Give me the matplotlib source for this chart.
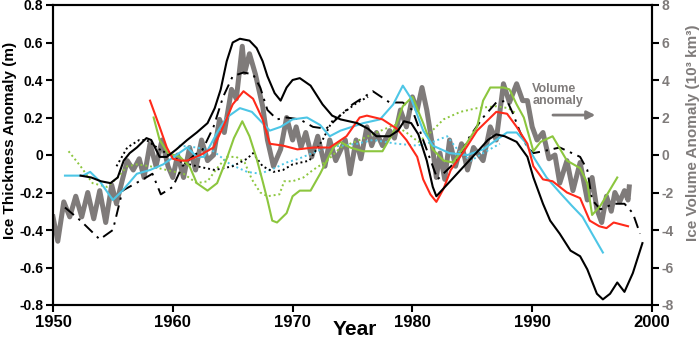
import matplotlib
matplotlib.use("Agg")
import matplotlib.pyplot as plt

plt.rcParams["font.family"] = ["Liberation Sans", "DejaVu Sans"]
plt.rcParams["font.weight"] = "bold"

GRAY = "#7f7b7a"
RED = "#ff2a1a"
CYAN = "#4dc6e6"
GREEN = "#8cc63e"

# --- data (thickness anomaly in m, volume anomaly in 10^3 km^3) ---
vol_years = [1950.0, 1950.4, 1950.9, 1951.4, 1951.9, 1952.4, 1952.9, 1953.4, 1953.9, 1954.4,
             1954.9, 1955.3, 1955.8, 1956.2, 1956.7, 1957.2, 1957.6, 1958.1, 1958.6, 1959.1,
             1959.6, 1960.0, 1960.4, 1960.9, 1961.4, 1961.9, 1962.4, 1962.9, 1963.4, 1963.9,
             1964.3, 1964.9, 1965.3, 1965.8, 1966.0, 1966.4, 1966.9, 1967.5, 1967.9, 1968.4,
             1969.0, 1969.5, 1970.0, 1970.3, 1970.7, 1971.1, 1971.6, 1972.1, 1972.7, 1973.1,
             1973.6, 1974.4, 1974.8, 1975.3, 1975.7, 1976.2, 1976.6, 1977.0, 1977.5, 1978.1,
             1978.5, 1979.0, 1979.5, 1980.0, 1980.4, 1980.8, 1981.2, 1981.6, 1982.0, 1982.3,
             1982.7, 1983.1, 1983.6, 1984.1, 1984.6, 1985.1, 1985.9, 1986.5, 1987.0, 1987.6,
             1988.1, 1988.7, 1989.2, 1989.6, 1990.0, 1990.4, 1990.9, 1991.4, 1991.9, 1992.3,
             1992.9, 1993.4, 1994.0, 1994.6, 1995.0, 1995.4, 1995.8, 1996.2, 1996.6, 1996.9,
             1997.3, 1997.7, 1998.0, 1998.1]
vol_values = [-3.3, -4.6, -2.5, -3.3, -2.2, -3.3, -2.0, -3.4, -1.9, -3.6,
              -1.6, -2.6, -1.3, -0.3, -0.8, -0.2, -1.2, 0.6, -0.6, 0.8,
              -0.6, -1.2, 0.0, -1.2, 0.4, -0.8, 0.8, -0.3, 0.0, 1.9,
              1.2, 3.5, 3.0, 5.8, 4.4, 5.4, 4.3, 2.6, 0.8, -0.6,
              0.3, 2.0, 0.8, 1.5, 0.4, 1.2, -0.1, 1.0, -0.6, 0.8,
              -0.3, 0.8, -1.0, 0.8, -0.2, 1.5, 0.5, 1.2, 0.5, 1.3,
              0.9, 2.4, 1.5, 3.1, 2.4, 3.6, 2.4, 0.8, -1.2, 0.1,
              -1.3, 0.8, -0.6, 0.6, -0.8, 0.4, -0.3, 1.5, 0.8, 3.8,
              2.8, 3.8, 2.9, 2.9, 1.5, 0.8, 1.2, -0.2, 0.0, -1.5,
              -0.3, -1.9, -0.4, -2.4, -1.2, -2.9, -3.6, -2.2, -3.0, -2.0,
              -2.5, -1.9, -2.4, -1.7]

black_years = [1952.3, 1953.2, 1954.0, 1954.8, 1955.4, 1955.9, 1956.4, 1957.0, 1957.8, 1958.2,
               1958.9, 1959.5, 1960.3, 1961.2, 1962.0, 1962.9, 1963.5, 1964.0, 1964.5, 1965.0,
               1965.6, 1966.4, 1967.0, 1967.5, 1967.9, 1968.5, 1969.0, 1969.5, 1970.0, 1970.6,
               1971.5, 1972.5, 1973.3, 1974.0, 1975.4, 1976.3, 1977.0, 1978.1, 1978.8, 1979.3,
               1979.9, 1980.5, 1981.2, 1981.7, 1982.0, 1985.6, 1986.3, 1987.0, 1987.7, 1988.7,
               1989.6, 1990.1, 1990.9, 1991.5, 1992.3, 1993.2, 1994.0, 1994.6, 1995.4, 1995.9,
               1996.5, 1997.1, 1997.7, 1998.4, 1999.2]
black_values = [-0.11, -0.12, -0.14, -0.15, -0.12, -0.03, 0.01, 0.04, 0.09, 0.08,
                -0.01, -0.01, 0.03, 0.08, 0.12, 0.17, 0.25, 0.35, 0.50, 0.60,
                0.62, 0.61, 0.57, 0.50, 0.42, 0.33, 0.29, 0.36, 0.40, 0.41,
                0.37, 0.27, 0.21, 0.19, 0.17, 0.14, 0.10, 0.10, 0.13, 0.18,
                0.17, 0.11, -0.03, -0.17, -0.22, 0.03, 0.08, 0.11, 0.10, 0.07,
                -0.01, -0.12, -0.26, -0.35, -0.42, -0.51, -0.54, -0.61, -0.74, -0.77,
                -0.74, -0.68, -0.73, -0.63, -0.47]

dashdot_years = [1951.0, 1952.3, 1953.9, 1955.0, 1955.8, 1957.5, 1958.3, 1959.0, 1960.0, 1960.8,
                 1961.8, 1962.5, 1963.4, 1964.2, 1965.0, 1965.9, 1966.7, 1967.3, 1967.9, 1968.7,
                 1969.5, 1970.6, 1971.7, 1972.8, 1973.8, 1975.0, 1976.7, 1978.1, 1979.2, 1980.0,
                 1980.9, 1981.7, 1982.1, 1983.7, 1984.8, 1985.9, 1987.0, 1987.9, 1988.4, 1989.0,
                 1989.6, 1990.1, 1990.9, 1992.3, 1994.0, 1994.6, 1995.0, 1995.7, 1996.8, 1997.7,
                 1998.4, 1999.0]
dashdot_values = [-0.28, -0.35, -0.45, -0.40, -0.19, -0.13, -0.10, -0.21, -0.17, -0.06,
                  0.0, 0.03, 0.15, 0.31, 0.42, 0.44, 0.43, 0.36, 0.24, 0.19,
                  0.20, 0.19, 0.15, 0.14, 0.20, 0.27, 0.34, 0.28, 0.28, 0.24,
                  0.08, -0.06, -0.13, -0.03, 0.10, 0.20, 0.28, 0.29, 0.22, 0.12,
                  0.04, 0.01, 0.02, 0.04, -0.01, -0.08, -0.24, -0.29, -0.26, -0.26,
                  -0.31, -0.42]

dotted_years = [1955.3, 1956.2, 1957.2, 1957.8, 1958.9, 1960.0, 1960.8, 1962.0, 1963.5, 1965.0,
                1966.2, 1966.7, 1967.5, 1968.4, 1969.2, 1970.0, 1971.4, 1972.5, 1973.3, 1975.4,
                1976.3]
dotted_values = [-0.06, 0.04, 0.08, 0.08, 0.03, -0.01, -0.04, -0.06, -0.08, -0.06,
                 -0.02, 0.01, -0.06, -0.09, -0.08, -0.05, -0.03, 0.08, 0.18, 0.28,
                 0.31]

red_years = [1958.1, 1958.9, 1959.5, 1960.0, 1960.6, 1961.2, 1962.3, 1963.4, 1964.2, 1965.0,
             1965.9, 1966.7, 1967.5, 1968.1, 1969.2, 1970.4, 1971.8, 1973.1, 1974.5, 1975.6,
             1976.2, 1977.5, 1978.7, 1979.5, 1980.4, 1980.9, 1981.5, 1982.0, 1982.6, 1983.2,
             1984.2, 1985.4, 1986.2, 1987.0, 1987.9, 1988.7, 1989.6, 1990.1, 1990.9, 1991.7,
             1992.9, 1994.0, 1994.8, 1995.6, 1996.2, 1996.8, 1998.0]
red_values = [0.29, 0.15, 0.04, -0.02, -0.03, -0.03, 0.0, 0.04, 0.15, 0.27,
              0.34, 0.30, 0.19, 0.06, 0.05, 0.03, 0.04, 0.04, 0.10, 0.20,
              0.21, 0.19, 0.14, 0.08, -0.01, -0.13, -0.21, -0.25, -0.18, -0.08,
              0.01, 0.13, 0.18, 0.23, 0.22, 0.15, 0.06, -0.06, -0.13, -0.14,
              -0.20, -0.23, -0.35, -0.38, -0.39, -0.36, -0.38]

cyan_years = [1951.0, 1952.5, 1953.1, 1953.9, 1955.0, 1955.8, 1957.0, 1958.1, 1959.2, 1960.3,
              1961.2, 1962.0, 1962.6, 1963.2, 1963.7, 1964.5, 1965.6, 1966.6, 1967.5, 1968.1,
              1969.0, 1970.0, 1971.2, 1972.3, 1973.1, 1974.0, 1975.9, 1977.3, 1978.4, 1979.2,
              1979.9, 1980.9, 1981.7, 1983.1, 1984.6, 1985.9, 1987.0, 1987.9, 1988.7, 1989.4,
              1990.2, 1991.2, 1992.3, 1993.3, 1994.2, 1995.0, 1995.9]
cyan_values = [-0.11, -0.11, -0.09, -0.14, -0.24, -0.19, -0.10, -0.08, -0.05, 0.0,
               0.04, -0.01, -0.01, 0.06, 0.12, 0.20, 0.25, 0.23, 0.17, 0.13,
               0.15, 0.19, 0.20, 0.16, 0.10, 0.13, 0.17, 0.19, 0.27, 0.37,
               0.30, 0.13, 0.05, 0.01, 0.0, 0.03, 0.08, 0.12, 0.12, 0.07,
               -0.02, -0.12, -0.20, -0.27, -0.33, -0.42, -0.52]

green_years = [1958.4, 1958.9, 1959.6, 1960.6, 1961.4, 1962.0, 1962.9, 1963.7, 1964.5, 1965.1,
               1965.8, 1966.4, 1967.0, 1967.5, 1967.9, 1968.3, 1968.7, 1969.5, 1970.0, 1970.6,
               1971.5, 1972.3, 1973.4, 1974.0, 1974.8, 1975.9, 1977.5, 1978.4, 1979.2, 1980.0,
               1980.9, 1981.7, 1982.6, 1983.4, 1984.4, 1985.4, 1985.9, 1986.5, 1987.6, 1988.1,
               1988.7, 1989.3, 1990.1, 1990.7, 1991.7, 1992.9, 1994.0, 1994.6, 1995.0, 1995.7,
               1997.1]
green_values = [0.20, 0.08, 0.01, -0.01, -0.06, -0.15, -0.19, -0.15, -0.02, 0.09,
                0.18, 0.10, -0.02, -0.14, -0.24, -0.35, -0.36, -0.31, -0.22, -0.19,
                -0.19, -0.10, 0.04, 0.07, 0.04, 0.02, 0.02, 0.12, 0.26, 0.31,
                0.17, 0.03, -0.03, -0.04, 0.05, 0.15, 0.29, 0.36, 0.36, 0.35,
                0.27, 0.20, 0.02, 0.07, 0.10, -0.03, -0.07, -0.15, -0.32, -0.27,
                -0.12]

gdot_years = [1951.3, 1952.3, 1953.3, 1954.5, 1955.4, 1956.2, 1957.0, 1958.1, 1959.5, 1960.9,
              1962.0, 1962.9, 1963.7, 1964.5, 1965.3, 1966.0, 1966.6, 1967.3, 1967.9, 1968.9,
              1969.3, 1970.0, 1970.9, 1971.7, 1972.9, 1974.0, 1975.6, 1977.0, 1978.5, 1979.5,
              1980.5, 1981.5, 1982.6, 1984.0, 1985.4, 1987.0, 1988.0, 1988.7]
gdot_values = [0.02, -0.06, -0.15, -0.17, -0.12, -0.06, -0.05, -0.06, -0.08, -0.10,
               -0.15, -0.14, -0.07, -0.01, -0.01, -0.04, -0.13, -0.20, -0.22, -0.21,
               -0.14, -0.14, -0.12, -0.08, -0.03, 0.04, 0.08, 0.12, 0.16, 0.12,
               0.07, 0.12, 0.19, 0.23, 0.25, 0.26, 0.25, 0.22]

cdot_years = [1960.5, 1962.0, 1963.4, 1964.8, 1966.2, 1967.3, 1968.5, 1969.5, 1970.5, 1972.8,
              1975.4, 1976.7, 1978.7, 1980.4, 1981.7, 1982.9, 1984.0, 1984.9, 1985.9, 1987.3]
cdot_values = [0.05, 0.04, 0.02, -0.05, -0.09, -0.10, -0.07, -0.04, -0.02, 0.04,
               0.06, 0.08, 0.06, 0.05, 0.07, 0.10, 0.01, -0.03, 0.01, 0.06]

left_ticks = [-0.8, -0.6, -0.4, -0.2, 0, 0.2, 0.4, 0.6, 0.8]
right_ticks = [-8, -6, -4, -2, 0, 2, 4, 6, 8]
year_ticks = [1950, 1960, 1970, 1980, 1990, 2000]

fig = plt.figure(figsize=(7.0, 3.47), dpi=100)
ax = fig.add_axes([53 / 700, 42 / 347, 599 / 700, 300 / 347])
ax2 = ax.twinx()

# volume series on the right axis, drawn underneath
ax2.plot(vol_years, vol_values, color=GRAY, lw=3.6, solid_joinstyle="round", zorder=1)
ax2.set_ylim(-8, 8)
ax.set_zorder(ax2.get_zorder() + 1)
ax.patch.set_visible(False)

ax.plot(gdot_years, gdot_values, color=GREEN, lw=1.4, ls=(0, (1, 1.5)))
ax.plot(cdot_years, cdot_values, color=CYAN, lw=1.4, ls=(0, (1, 1.5)))
ax.plot(dotted_years, dotted_values, color="black", lw=1.4, ls=(0, (1, 1.5)))
ax.plot(dashdot_years, dashdot_values, color="black", lw=1.4, ls=(0, (6, 3, 1.2, 3)))
ax.plot(green_years, green_values, color=GREEN, lw=1.5)
ax.plot(cyan_years, cyan_values, color=CYAN, lw=1.5)
ax.plot(red_years, red_values, color=RED, lw=1.5)
ax.plot(black_years, black_values, color="black", lw=1.5)

ax.set_xlim(1950, 2000)
ax.set_ylim(-0.8, 0.8)
ax.set_xticks(year_ticks)
ax.set_xticklabels([str(y) for y in year_ticks], fontsize=12, fontweight="bold")
ax.set_yticks(left_ticks)
ax.set_yticklabels(["0" if t == 0 else f"{t:.1f}" for t in left_ticks], fontsize=10, fontweight="bold")
ax2.set_yticks(right_ticks)
ax2.set_yticklabels([str(t) for t in right_ticks], fontsize=10, fontweight="bold", color=GRAY)

for a in (ax, ax2):
    for s in a.spines.values():
        s.set_linewidth(1.5)
    a.tick_params(width=1.5, length=5, direction="out", pad=2)

ax.set_xlabel("Year", fontsize=15, fontweight="bold")
ax.xaxis.set_label_coords(0.504, -0.083)
ax.xaxis.label.set_va("center")
ax.set_ylabel("Ice Thickness Anomaly (m)", fontsize=11, fontweight="bold")
ax.yaxis.set_label_coords(-0.072, 0.55)
ax.yaxis.label.set_va("center")
ax2.set_ylabel("Ice Volume Anomaly (10³ km³)", fontsize=11, fontweight="bold", color=GRAY)
ax2.yaxis.set_label_coords(1.068, 0.573)
ax2.yaxis.label.set_va("center")

ax.text(1990.0, 0.32, "Volume\nanomaly", fontsize=9, fontweight="bold", color=GRAY,
        ha="left", va="center", linespacing=1.1)
ax.annotate("", xy=(1995.5, 0.213), xytext=(1991.5, 0.213),
            arrowprops=dict(arrowstyle="-|>", color=GRAY, lw=2, mutation_scale=12))

fig.savefig("out.png", dpi=100)
